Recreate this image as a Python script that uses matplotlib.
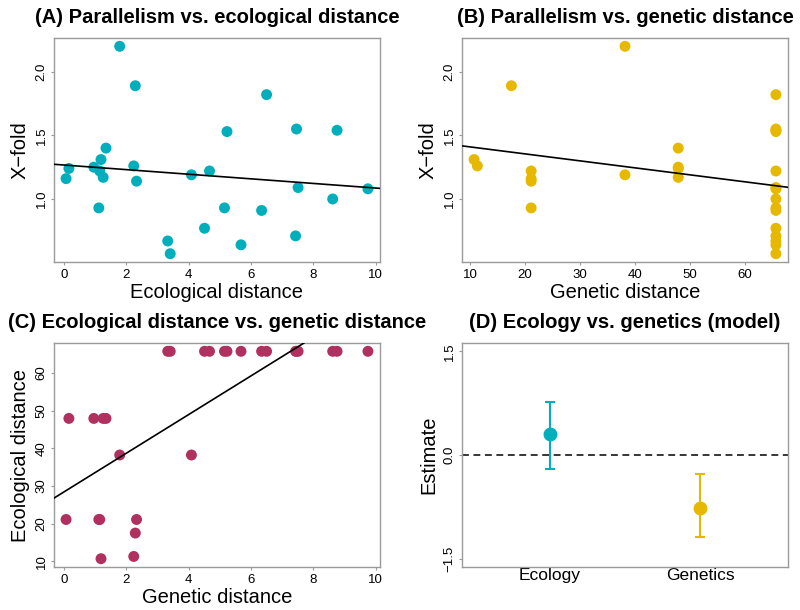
"""Parallelism vs. ecological / genetic distance: four-panel summary figure."""

from __future__ import annotations

import matplotlib

matplotlib.use("Agg")
import matplotlib.pyplot as plt
import numpy as np
from matplotlib.ticker import FuncFormatter

plt.rcParams.update({"font.family": ["Liberation Sans", "DejaVu Sans"]})

TEAL, GOLD, MAROON = "#00AFBB", "#E7B800", "#B03060"
FRAME = "#9a9a9a"

# one entry per population pair
eco_dist = [1.79, 2.29, 1.35, 1.19, 0.96, 1.15, 0.16, 2.24, 1.26, 0.07,
            2.33, 4.09, 4.67, 1.12, 4.51, 3.33, 3.41, 6.50, 5.23, 7.46,
            8.76, 7.51, 9.75, 8.62, 5.15, 6.34, 7.43, 5.68]
gen_dist = [38.2, 17.5, 47.9, 10.7, 47.9, 21.1, 47.9, 11.3, 47.9, 21.1,
            21.1, 38.2, 65.7, 21.1, 65.7, 65.7, 65.7, 65.7, 65.7, 65.7,
            65.7, 65.7, 65.7, 65.7, 65.7, 65.7, 65.7, 65.7]
xfold = [2.20, 1.89, 1.40, 1.31, 1.25, 1.22, 1.24, 1.26, 1.17, 1.16,
         1.14, 1.19, 1.22, 0.93, 0.77, 0.67, 0.57, 1.82, 1.53, 1.55,
         1.54, 1.09, 1.08, 1.00, 0.93, 0.91, 0.71, 0.64]

# fitted lines as drawn in the original (intercept, slope)
fit_a = (1.267, -0.0181)
fit_b = (1.464, -0.00548)
fit_c = (28.4, 5.13)

# model estimates (panel D)
terms = ["Ecology", "Genetics"]
estimate = [0.30, -0.76]
ci_low = [-0.20, -1.19]
ci_high = [0.77, -0.28]
term_colors = [TEAL, GOLD]

W, H = 800, 610


def px_axes(fig, left, top, right, bottom):
    return fig.add_axes([left / W, 1 - bottom / H, (right - left) / W, (bottom - top) / H])


def r_lim(v, pad=0.04):
    lo, hi = min(v), max(v)
    d = (hi - lo) * pad
    return lo - d, hi + d


def style(ax):
    for sp in ax.spines.values():
        sp.set_color(FRAME)
        sp.set_linewidth(1.0)
    ax.tick_params(length=2.2, width=0.8, color=FRAME, labelsize=9.5, pad=2.5)
    ax.tick_params(axis="y", labelrotation=90)
    for lab in ax.get_yticklabels():
        lab.set_va("center")
    return FuncFormatter(lambda v, _: f"{v:.1f}".replace("-", "\u2212"))


def scatter_fit(ax, x, y, fit, color, title, xlabel, ylabel, xticks, yticks, yfmt=False):
    ax.scatter(x, y, s=62, color=color, edgecolors="none", zorder=3)
    ax.set_xlim(*r_lim(x))
    ax.set_ylim(*r_lim(y))
    icpt, slope = fit
    ax.axline((0, icpt), slope=slope, color="black", lw=1.2, zorder=4)
    ax.set_xlim(*r_lim(x))
    ax.set_ylim(*r_lim(y))
    ax.set_xticks(xticks)
    ax.set_yticks(yticks)
    fmt = style(ax)
    if yfmt:
        ax.yaxis.set_major_formatter(fmt)
    ax.set_title(title, fontsize=14.5, fontweight="bold", pad=11)
    ax.set_xlabel(xlabel, fontsize=14.5, labelpad=2)
    ax.set_ylabel(ylabel, fontsize=14.5, labelpad=4)


def main() -> None:
    fig = plt.figure(figsize=(W / 100, H / 100), dpi=100)

    ax_a = px_axes(fig, 54, 38, 380, 262)
    scatter_fit(ax_a, eco_dist, xfold, fit_a, TEAL, "(A) Parallelism vs. ecological distance",
                "Ecological distance", "X\u2212fold", range(0, 11, 2), [1.0, 1.5, 2.0], True)

    ax_b = px_axes(fig, 462, 38, 788, 262)
    scatter_fit(ax_b, gen_dist, xfold, fit_b, GOLD, "(B) Parallelism vs. genetic distance",
                "Genetic distance", "X\u2212fold", range(10, 61, 10), [1.0, 1.5, 2.0], True)

    ax_c = px_axes(fig, 54, 343, 380, 567)
    scatter_fit(ax_c, eco_dist, gen_dist, fit_c, MAROON,
                "(C) Ecological distance vs. genetic distance",
                "Genetic distance", "Ecological distance", range(0, 11, 2), range(10, 61, 10))

    ax_d = px_axes(fig, 462, 343, 788, 567)
    pos = np.arange(1, len(terms) + 1)
    for p, est, lo, hi, c in zip(pos, estimate, ci_low, ci_high, term_colors):
        ax_d.errorbar(p, est, yerr=[[est - lo], [hi - est]], fmt="o", color=c,
                      ms=9, capsize=3.6, capthick=1.5, elinewidth=1.5, zorder=3)
    ax_d.axhline(0, color="black", ls=(0, (4.5, 3)), lw=1.1)
    ax_d.set_xlim(0.42, 2.58)
    ax_d.set_ylim(-1.62, 1.62)
    ax_d.set_xticks(pos)
    ax_d.set_xticklabels(terms, fontsize=12.5)
    ax_d.set_yticks([-1.5, 0.0, 1.5])
    fmt = style(ax_d)
    ax_d.yaxis.set_major_formatter(fmt)
    ax_d.tick_params(axis="x", labelsize=12.5, length=0, pad=1)
    ax_d.set_title("(D) Ecology vs. genetics (model)", fontsize=14.5, fontweight="bold", pad=11)
    ax_d.set_ylabel("Estimate", fontsize=14.5, labelpad=4)

    fig.savefig("out.png", dpi=100)
    plt.close(fig)


if __name__ == "__main__":
    main()
